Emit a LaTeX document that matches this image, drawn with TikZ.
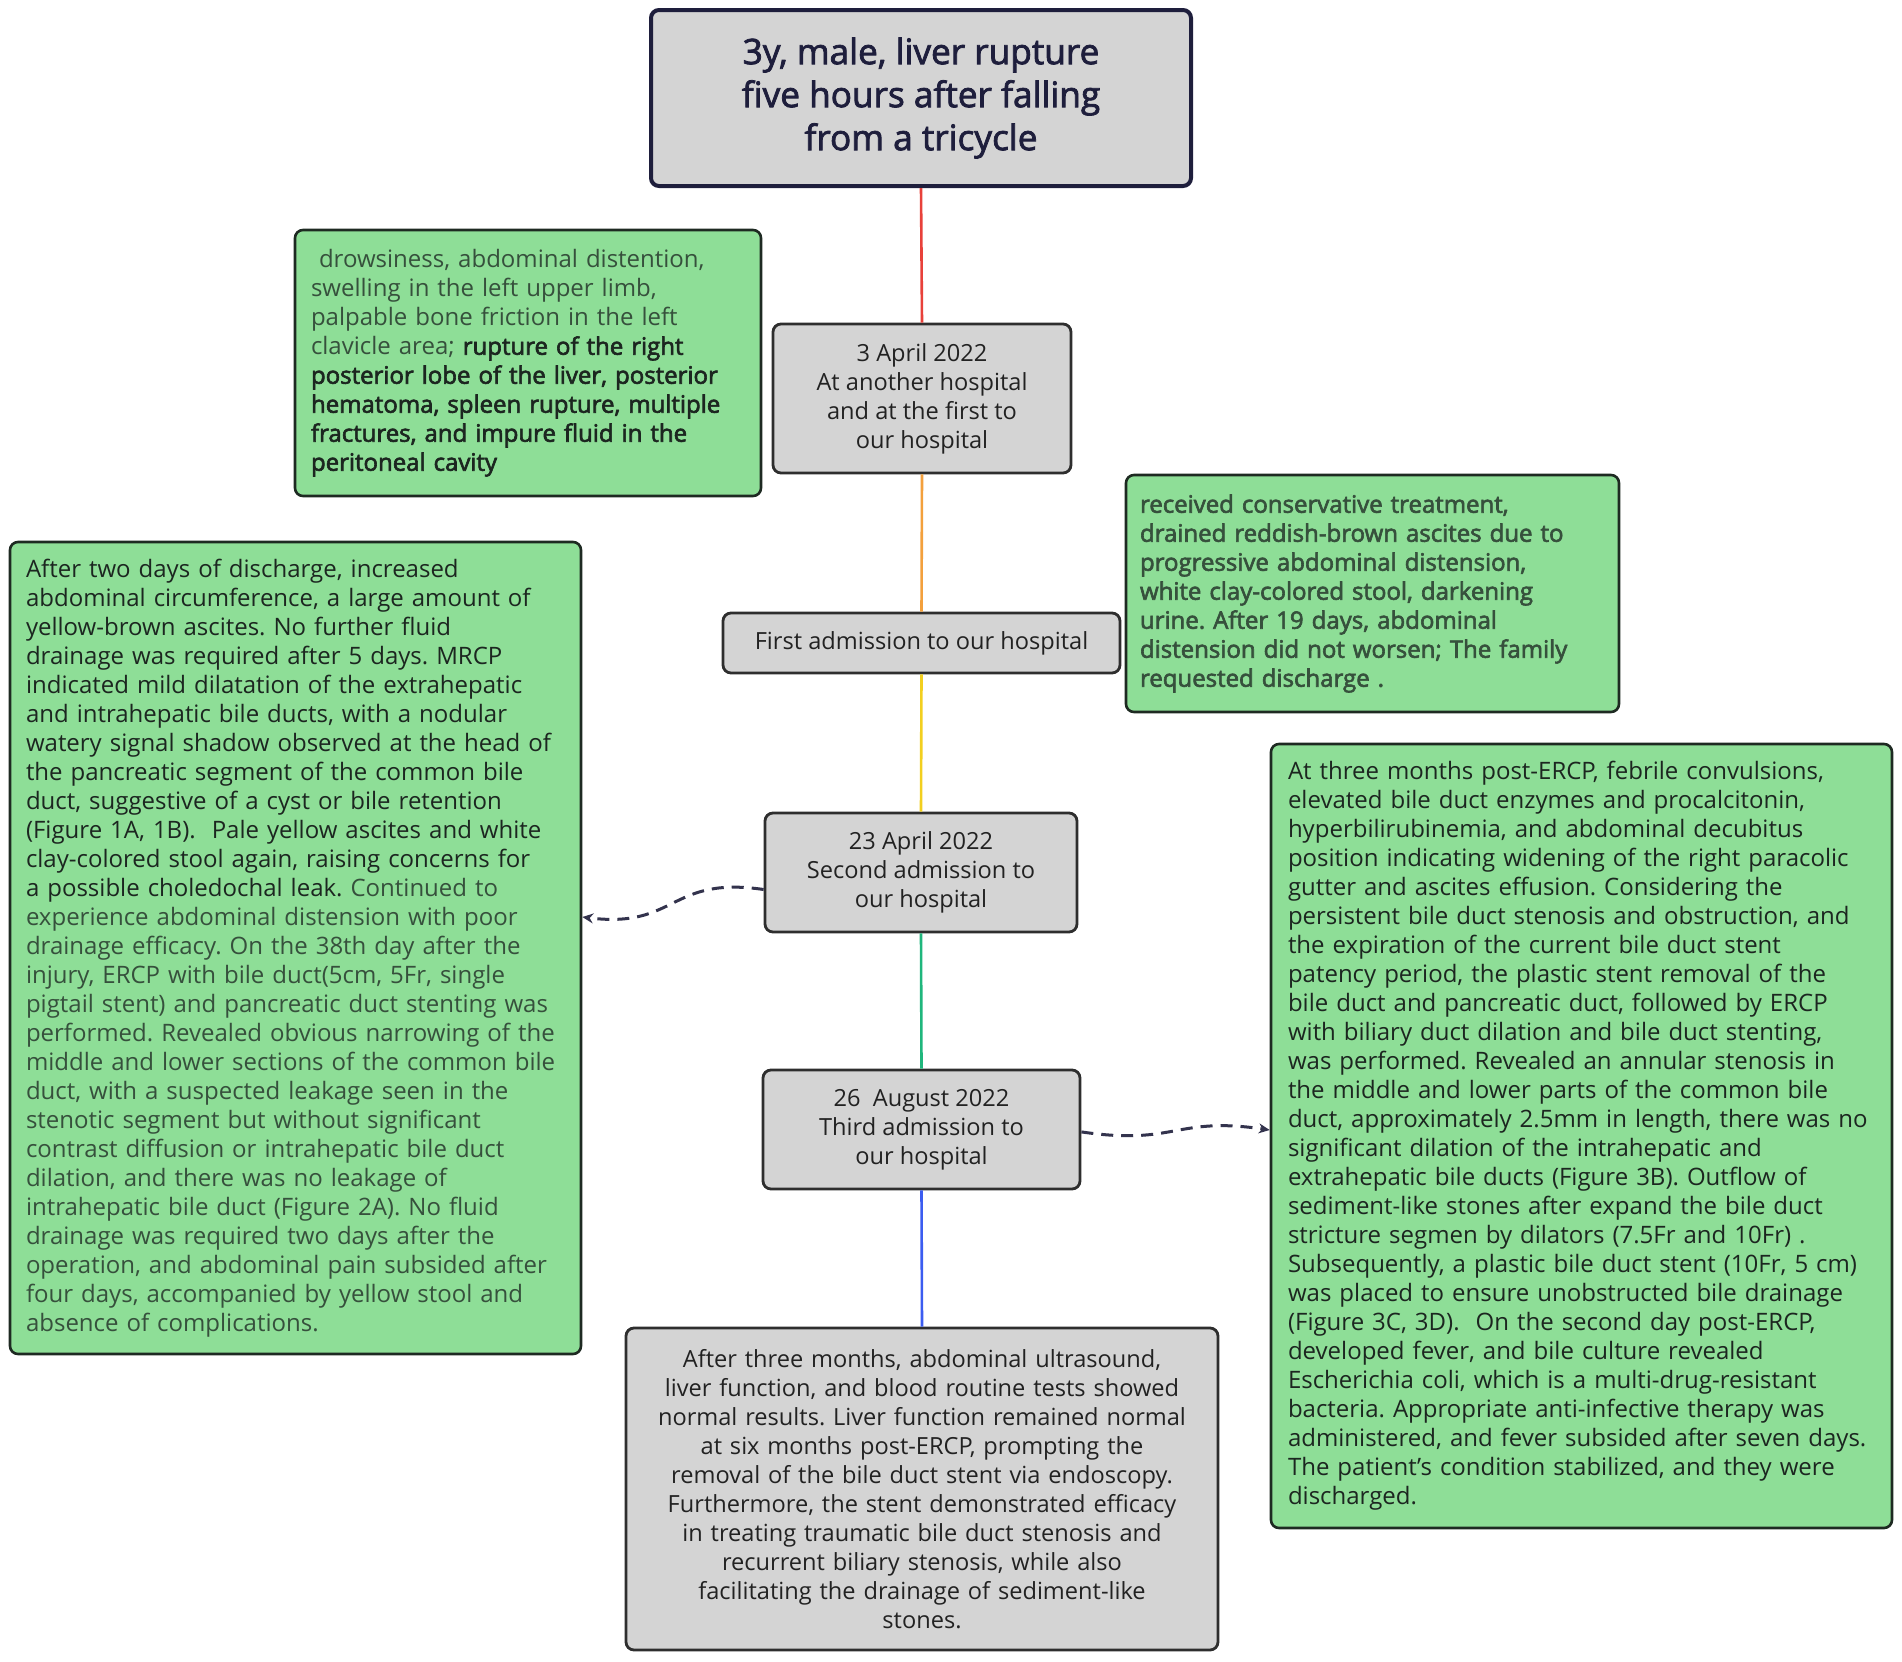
\documentclass[tikz,border=0pt]{standalone}
\usepackage{fontspec}
\setmainfont{Open Sans}
\newfontfamily\semib{Open Sans}[FakeBold=2.6]
\newfontfamily\titlef{Open Sans}[FakeBold=2.2]
\usetikzlibrary{arrows.meta}
\definecolor{gfill}{HTML}{8EDE97}
\definecolor{bfill}{HTML}{D4D4D4}
\definecolor{gline}{HTML}{1E2A22}
\definecolor{bline}{HTML}{2E2E2E}
\definecolor{tline}{HTML}{1E1E3C}
\definecolor{tdark}{HTML}{1C2620}
\definecolor{tmid}{HTML}{36503C}
\definecolor{tgray}{HTML}{222222}
\definecolor{arrowc}{HTML}{33334D}
\definecolor{lred}{HTML}{E8413A}
\definecolor{lorange}{HTML}{F3A03C}
\definecolor{lyellow}{HTML}{F2CF1F}
\definecolor{lgreen}{HTML}{1FB67C}
\definecolor{lblue}{HTML}{3B5CF0}
\frenchspacing
\begin{document}
\begin{tikzpicture}[x=0.5pt,y=-0.5pt,
  base/.style={draw, rounded corners=4pt, inner sep=0pt},
  graybox/.style={base, fill=bfill, draw=bline, line width=1.4pt, text=tgray, align=center,
    font=\fontsize{11.8}{14.5}\selectfont},
  greenbox/.style={base, fill=gfill, draw=gline, line width=1.3pt, align=left,
    font=\fontsize{12}{14.5}\selectfont},
  titlebox/.style={base, fill=bfill, draw=tline, line width=2pt, text=tline, align=center,
    font=\fontsize{17.6}{21.5}\selectfont\titlef},
  tl/.style={line width=1.3pt},
  dasharrow/.style={draw=arrowc, line width=1.5pt, dash pattern=on 6pt off 4pt,
    -{Stealth[length=5.5pt,width=5pt]}}
]
\useasboundingbox (0,0) rectangle (1902,1661);

% timeline nodes
\node[titlebox, minimum width={540*0.5pt}, minimum height={176*0.5pt}] (title) at (921,98)
  {3y, male, liver rupture\\five hours after falling\\from a tricycle};
\node[graybox, minimum width={298*0.5pt}, minimum height={149*0.5pt}] (apr3) at (922,398.5)
  {3 April 2022\\At another hospital\\and at the first to\\our hospital};
\node[graybox, minimum width={397*0.5pt}, minimum height={60*0.5pt}] (first) at (921.5,643)
  {First admission to our hospital};
\node[graybox, minimum width={312*0.5pt}, minimum height={119*0.5pt}] (apr23) at (921,872.5)
  {23 April 2022\\Second admission to\\our hospital};
\node[graybox, minimum width={317*0.5pt}, minimum height={119*0.5pt}] (aug26) at (921.5,1129.5)
  {26\ \ August 2022\\Third admission to\\our hospital};
\node[graybox, minimum width={592*0.5pt}, minimum height={322*0.5pt}, text width={560*0.5pt}] (final) at (922,1489)
  {After three months, abdominal ultrasound,\\
   liver function, and blood routine tests showed\\
   normal results. Liver function remained normal\\
   at six months post-ERCP, prompting the\\
   removal of the bile duct stent via endoscopy.\\
   Furthermore, the stent demonstrated efficacy\\
   in treating traumatic bile duct stenosis and\\
   recurrent biliary stenosis, while also\\
   facilitating the drainage of sediment-like\\
   stones.};

% green detail boxes
\node[greenbox, minimum width={466*0.5pt}, minimum height={266*0.5pt}, text width={434*0.5pt}] (g1) at (528,363)
  {\color{tmid}\ drowsiness, abdominal distention,\\
   swelling in the left upper limb,\\
   palpable bone friction in the left\\
   clavicle area; {\color{tdark}\semib rupture of the right\\
   posterior lobe of the liver, posterior\\
   hematoma, spleen rupture, multiple\\
   fractures, and impure fluid in the\\
   peritoneal cavity}};
\node[greenbox, minimum width={493*0.5pt}, minimum height={237*0.5pt}, text width={465*0.5pt}] (g2) at (1372.5,593.5)
  {\color{tmid}\semib received conservative treatment,\\
   drained reddish-brown ascites due to\\
   progressive abdominal distension,\\
   white clay-colored stool, darkening\\
   urine. After 19 days, abdominal\\
   distension did not worsen; The family\\
   requested discharge .};
\node[greenbox, minimum width={571*0.5pt}, minimum height={812*0.5pt}, text width={539*0.5pt}] (gL) at (295.5,948)
  {\color{tdark}After two days of discharge, increased\\
   abdominal circumference, a large amount of\\
   yellow-brown ascites. No further fluid\\
   drainage was required after 5 days. MRCP\\
   indicated mild dilatation of the extrahepatic\\
   and intrahepatic bile ducts, with a nodular\\
   watery signal shadow observed at the head of\\
   the pancreatic segment of the common bile\\
   duct, suggestive of a cyst or bile retention\\
   (Figure 1A, 1B).\ \ Pale yellow ascites and white\\
   clay-colored stool again, raising concerns for\\
   a possible choledochal leak. {\color{tmid}Continued to\\
   experience abdominal distension with poor\\
   drainage efficacy. On the 38th day after the\\
   injury, ERCP with bile duct(5cm, 5Fr, single\\
   pigtail stent) and pancreatic duct stenting was\\
   performed. Revealed obvious narrowing of the\\
   middle and lower sections of the common bile\\
   duct, with a suspected leakage seen in the\\
   stenotic segment but without significant\\
   contrast diffusion or intrahepatic bile duct\\
   dilation, and there was no leakage of\\
   intrahepatic bile duct (Figure 2A). No fluid\\
   drainage was required two days after the\\
   operation, and abdominal pain subsided after\\
   four days, accompanied by yellow stool and\\
   absence of complications.}};
\node[greenbox, minimum width={621*0.5pt}, minimum height={784*0.5pt}, text width={587*0.5pt}] (gR) at (1581.5,1136)
  {\color{tdark}At three months post-ERCP, febrile convulsions,\\
   elevated bile duct enzymes and procalcitonin,\\
   hyperbilirubinemia, and abdominal decubitus\\
   position indicating widening of the right paracolic\\
   gutter and ascites effusion. Considering the\\
   persistent bile duct stenosis and obstruction, and\\
   the expiration of the current bile duct stent\\
   patency period, the plastic stent removal of the\\
   bile duct and pancreatic duct, followed by ERCP\\
   with biliary duct dilation and bile duct stenting,\\
   was performed. Revealed an annular stenosis in\\
   the middle and lower parts of the common bile\\
   duct, approximately 2.5mm in length, there was no\\
   significant dilation of the intrahepatic and\\
   extrahepatic bile ducts (Figure 3B). Outflow of\\
   sediment-like stones after expand the bile duct\\
   stricture segmen by dilators (7.5Fr and 10Fr) .\\
   Subsequently, a plastic bile duct stent (10Fr, 5 cm)\\
   was placed to ensure unobstructed bile drainage\\
   (Figure 3C, 3D).\ \ On the second day post-ERCP,\\
   developed fever, and bile culture revealed\\
   Escherichia coli, which is a multi-drug-resistant\\
   bacteria. Appropriate anti-infective therapy was\\
   administered, and fever subsided after seven days.\\
   The patient’s condition stabilized, and they were\\
   discharged.};

% timeline connectors
\draw[tl, lred] (title.south) -- (apr3.north);
\draw[tl, lorange] (apr3.south) -- (first.north);
\draw[tl, lyellow] (first.south) -- (apr23.north);
\draw[tl, lgreen] (apr23.south) -- (aug26.north);
\draw[tl, lblue] (aug26.south) -- (final.north);

% dashed curved arrows
\draw[dasharrow] ([yshift=-8.5pt]apr23.west) .. controls +(-95,-14) and +(95,12) .. ([yshift=15.5pt]gL.east);
\draw[dasharrow] ([yshift=-1.2pt]aug26.east) .. controls +(95,14) and +(-95,-14) .. ([yshift=3pt]gR.west);
\end{tikzpicture}
\end{document}
